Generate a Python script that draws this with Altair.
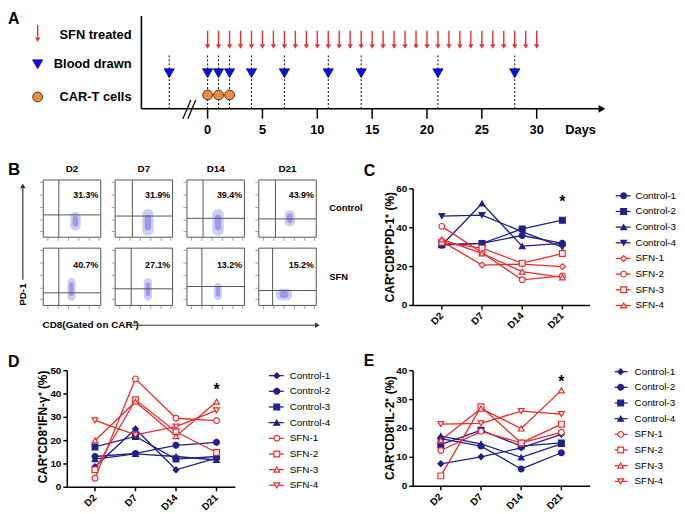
import altair as alt
import pandas as pd

FONT = "Liberation Sans"
NAVY = "#20208e"
RED = "#f02a2a"
GREY = "#555555"

# ---------------- Panel A data ----------------
sfn_days = list(range(0, 31))
blood_days = [-3.5, 0, 1, 2, 4, 7, 11, 14, 21, 28]
cart_days = [0, 1, 2]
day_ticks = [0, 5, 10, 15, 20, 25, 30]

# ---------------- Panel B data ----------------
flow_days = ["D2", "D7", "D14", "D21"]
flow_groups = ["Control", "SFN"]
flow_pct_control = [31.3, 31.9, 39.4, 43.9]
flow_pct_sfn = [40.7, 27.1, 13.2, 15.2]
gate_x_control = [0.27, 0.30, 0.28, 0.29]
gate_x_sfn = [0.27, 0.28, 0.26, 0.24]
gate_y_control = [0.39, 0.37, 0.33, 0.32]
gate_y_sfn = [0.22, 0.29, 0.33, 0.26]
cloud_x_control = [0.56, 0.57, 0.54, 0.54]
cloud_x_sfn = [0.49, 0.57, 0.54, 0.44]
cloud_y_control = [0.28, 0.26, 0.26, 0.33]
cloud_y_sfn = [0.28, 0.28, 0.24, 0.19]
cloud_w_control = [0.09, 0.10, 0.10, 0.09]
cloud_w_sfn = [0.07, 0.07, 0.07, 0.14]
cloud_h_control = [0.16, 0.23, 0.23, 0.14]
cloud_h_sfn = [0.20, 0.20, 0.15, 0.10]
flow_ticks_left = [0.1, 0.3, 0.52, 0.74, 0.96]
flow_ticks_bottom = [0.08, 0.26, 0.44, 0.62, 0.80, 0.97]

# ---------------- Panels C-E data ----------------
days = ["D2", "D7", "D14", "D21"]
series = ["Control-1", "Control-2", "Control-3", "Control-4",
          "SFN-1", "SFN-2", "SFN-3", "SFN-4"]

pd1_control1 = [31.0, 32.0, 36.0, 32.0]
pd1_control2 = [31.3, 31.9, 39.4, 43.9]
pd1_control3 = [31.0, 52.5, 30.5, 32.0]
pd1_control4 = [46.0, 46.5, 38.0, 30.0]
pd1_sfn1 = [33.0, 20.8, 21.3, 20.0]
pd1_sfn2 = [40.7, 27.1, 13.2, 15.2]
pd1_sfn3 = [32.5, 29.5, 21.8, 26.7]
pd1_sfn4 = [34.0, 26.8, 17.4, 14.5]

ifn_control1 = [8.8, 25.0, 7.5, 12.5]
ifn_control2 = [13.2, 14.5, 18.0, 19.3]
ifn_control3 = [17.3, 21.8, 12.1, 13.2]
ifn_control4 = [12.1, 14.3, 13.2, 11.7]
ifn_sfn1 = [3.9, 46.5, 29.6, 28.6]
ifn_sfn2 = [7.5, 37.5, 23.8, 14.9]
ifn_sfn3 = [20.1, 36.7, 21.9, 36.7]
ifn_sfn4 = [28.7, 22.5, 26.0, 33.0]

il2_control1 = [7.8, 10.2, 13.3, 18.0]
il2_control2 = [16.5, 13.9, 6.0, 11.6]
il2_control3 = [14.4, 19.4, 13.9, 15.0]
il2_control4 = [17.4, 14.7, 10.0, 14.7]
il2_sfn1 = [12.4, 19.0, 15.0, 18.7]
il2_sfn2 = [3.6, 27.5, 15.0, 21.5]
il2_sfn3 = [15.9, 26.9, 20.0, 33.2]
il2_sfn4 = [21.5, 21.8, 26.0, 25.0]

ONE = pd.DataFrame({"k": [0]})


def txt(s, x, y, size=11, bold=True, align="left", angle=0, baseline="middle", color="black"):
    return alt.Chart(ONE).mark_text(
        text=s, font=FONT, fontSize=size, fontWeight="bold" if bold else "normal",
        align=align, baseline=baseline, angle=angle, color=color
    ).encode(x=alt.value(x), y=alt.value(y))


def hrule(x0, x1, y, w=1.5, color="black"):
    return alt.Chart(ONE).mark_rule(color=color, strokeWidth=w).encode(
        x=alt.value(x0), x2=alt.value(x1), y=alt.value(y))


def vrule(x, y0, y1, w=1.5, color="black"):
    return alt.Chart(ONE).mark_rule(color=color, strokeWidth=w).encode(
        x=alt.value(x), y=alt.value(y0), y2=alt.value(y1))


def seg(x0, y0, x1, y1, w=1.3, color="black"):
    return alt.Chart(ONE).mark_rule(color=color, strokeWidth=w).encode(
        x=alt.value(x0), x2=alt.value(x1), y=alt.value(y0), y2=alt.value(y1))


def sym(shape, x, y, size, fill, stroke="black", sw=0.0):
    return alt.Chart(ONE).mark_point(
        shape=shape, filled=True, fill=fill, stroke=stroke, strokeWidth=sw,
        size=size, opacity=1
    ).encode(x=alt.value(x), y=alt.value(y))


children = []

# ======================= Panel A =======================
xA = alt.Scale(domain=[0, 30], range=[202, 535], nice=False, zero=False)


def XA():
    return alt.X("day:Q", scale=xA, axis=None)


sfn_df = pd.DataFrame({"day": sfn_days})
blood_df = pd.DataFrame({"day": blood_days})
cart_df = pd.DataFrame({"day": cart_days})
tick_df = pd.DataFrame({"day": day_ticks})

panelA = alt.layer(
    alt.Chart(sfn_df).mark_rule(color=RED, strokeWidth=1.4).encode(
        x=XA(), y=alt.value(20), y2=alt.value(34)),
    alt.Chart(sfn_df).mark_point(shape="triangle-down", filled=True, color=RED,
                                 size=28, opacity=1).encode(x=XA(), y=alt.value(36)),
    alt.Chart(blood_df).mark_rule(color="black", strokeWidth=1, strokeDash=[2, 2]).encode(
        x=XA(), y=alt.value(45), y2=alt.value(99)),
    alt.Chart(blood_df).mark_point(shape="triangle-down", filled=True, fill="#0a0aff",
                                   stroke="black", strokeWidth=0.6, size=110,
                                   opacity=1).encode(x=XA(), y=alt.value(63)),
    alt.Chart(cart_df).mark_point(shape="circle", filled=True, fill="#f08c3c",
                                  stroke="black", strokeWidth=0.7, size=100,
                                  opacity=1).encode(x=XA(), y=alt.value(85)),
    alt.Chart(tick_df).mark_rule(color="black", strokeWidth=1.5).encode(
        x=XA(), y=alt.value(99), y2=alt.value(109)),
    alt.Chart(tick_df).mark_text(font=FONT, fontSize=13, fontWeight="bold",
                                 baseline="middle").encode(
        x=XA(), y=alt.value(120), text="day:Q"),
)
children.append(panelA)

children += [
    vrule(135, 5, 99, 1.6),
    hrule(135, 598, 99, 1.6),
    sym("triangle-right", 601, 99, 60, "black"),
    seg(177, 109, 185, 90, 1.3),
    seg(182, 109, 190, 90, 1.3),
    txt("Days", 564, 120, 13),
    # legend
    vrule(30, 14, 27, 1.4, RED),
    sym("triangle-down", 30, 29, 28, RED, RED),
    sym("triangle-down", 30, 54, 110, "#0a0aff", "black", 0.6),
    sym("circle", 30, 87, 100, "#f08c3c", "black", 0.7),
    txt("SFN treated", 125, 24, 13, align="right"),
    txt("Blood drawn", 125, 54, 13, align="right"),
    txt("CAR-T cells", 125, 87, 13, align="right"),
    txt("A", 0, 0, 16, baseline="top"),
]

# ======================= Panel B =======================
BW, BH = 0.8, 0.84
LABEL_X = 0.74
LABEL_Y = [0.74, 0.70]
rows = []
tick_rows = []
for r, g in enumerate(flow_groups):
    ctl = (g == "Control")
    pct = flow_pct_control if ctl else flow_pct_sfn
    gxs = gate_x_control if ctl else gate_x_sfn
    gys = gate_y_control if ctl else gate_y_sfn
    cxs = cloud_x_control if ctl else cloud_x_sfn
    cys = cloud_y_control if ctl else cloud_y_sfn
    cws = cloud_w_control if ctl else cloud_w_sfn
    chs = cloud_h_control if ctl else cloud_h_sfn
    for c, d in enumerate(flow_days):
        rows.append(dict(
            group=g, day=d, pct=f"{pct[c]}%",
            bx0=c, bx1=c + BW, by0=r, by1=r + BH,
            hx=c + BW / 2,
            gx=c + BW * gxs[c], gy=r + BH * (1 - gys[c]),
            lx=c + BW * LABEL_X, ly=r + BH * (1 - LABEL_Y[r]),
            cx0=c + BW * (cxs[c] - cws[c]), cx1=c + BW * (cxs[c] + cws[c]),
            cy0=r + BH * (1 - (cys[c] + chs[c])), cy1=r + BH * (1 - (cys[c] - chs[c])),
            ix0=c + BW * (cxs[c] - 0.55 * cws[c]), ix1=c + BW * (cxs[c] + 0.55 * cws[c]),
            iy0=r + BH * (1 - (cys[c] + 0.6 * chs[c])), iy1=r + BH * (1 - (cys[c] - 0.6 * chs[c])),
        ))
        for f in flow_ticks_left:
            tick_rows.append(dict(kind="L", x=c, y=r + BH * (1 - f)))
        for f in flow_ticks_bottom:
            tick_rows.append(dict(kind="B", x=c + BW * f, y=r + BH))
flow_df = pd.DataFrame(rows)
head_df = flow_df[flow_df.group == "Control"]
ftick_df = pd.DataFrame(tick_rows)

xB = alt.Scale(domain=[0, 4], range=[35.7, 326.5], nice=False, zero=False)
yB = alt.Scale(domain=[0, 2], range=[171, 309], nice=False, zero=False)


def XB(f):
    return alt.X(f"{f}:Q", scale=xB, axis=None)


def YB(f):
    return alt.Y(f"{f}:Q", scale=yB, axis=None)


base = alt.Chart(flow_df)
panelB = alt.layer(
    base.mark_rect(fill="white", stroke=GREY, strokeWidth=1).encode(
        x=XB("bx0"), x2="bx1:Q", y=YB("by0"), y2="by1:Q"),
    base.mark_rect(fill="#b8b8f2", opacity=0.7, cornerRadius=5).encode(
        x=XB("cx0"), x2="cx1:Q", y=YB("cy0"), y2="cy1:Q"),
    base.mark_rect(fill="#6a6ad8", opacity=0.5, cornerRadius=3).encode(
        x=XB("ix0"), x2="ix1:Q", y=YB("iy0"), y2="iy1:Q"),
    base.mark_rule(color=GREY, strokeWidth=1).encode(
        x=XB("gx"), y=YB("by0"), y2="by1:Q"),
    base.mark_rule(color=GREY, strokeWidth=1).encode(
        y=YB("gy"), x=XB("bx0"), x2="bx1:Q"),
    alt.Chart(ftick_df).transform_filter("datum.kind == 'L'").mark_tick(
        orient="horizontal", color="#777777", thickness=1, size=3, xOffset=-2).encode(
        x=XB("x"), y=YB("y")),
    alt.Chart(ftick_df).transform_filter("datum.kind == 'B'").mark_tick(
        orient="vertical", color="#777777", thickness=1, size=3, yOffset=2).encode(
        x=XB("x"), y=YB("y")),
    base.mark_text(font=FONT, fontSize=9, fontWeight="bold").encode(
        x=XB("lx"), y=YB("ly"), text="pct:N"),
    alt.Chart(head_df).mark_text(font=FONT, fontSize=10, fontWeight="bold").encode(
        x=XB("hx"), y=alt.value(160), text="day:N"),
)
children.append(panelB)
children += [
    txt("Control", 325, 199, 9.5),
    txt("SFN", 325, 269, 9.5),
    vrule(15, 272, 179, 1.2, "#333333"),
    sym("triangle-up", 15, 177, 30, "#333333", "#333333"),
    txt("PD-1", 15, 287, 10, angle=270, align="center"),
    txt("CD8(Gated on CAR\u207a)", 35, 318, 10),
    hrule(125, 311, 318, 1.2, "#333333"),
    sym("triangle-right", 313, 318, 30, "#333333", "#333333"),
    txt("B", 0, 161, 17),
]


# ======================= Line panels =======================
def line_panel(vals, shapes, cat_rng, y_dom, y_rng, yticks, ax_x0, ax_x1,
               ytitle, title_x, title_y, star_v, leg_x, leg_y, letter, letter_xy):
    recs = []
    for s, v in zip(series, vals):
        for i, (d, val) in enumerate(zip(days, v)):
            recs.append(dict(series=s, day=d, idx=i, value=val))
    df = pd.DataFrame(recs)
    xs = alt.Scale(type="point", domain=days, range=cat_rng, padding=0)
    ys = alt.Scale(domain=y_dom, range=y_rng, nice=False, zero=False)
    col_scale = alt.Scale(domain=series, range=[NAVY] * 4 + [RED] * 4)
    fill_scale = alt.Scale(domain=series, range=[NAVY] * 4 + ["white"] * 4)
    shape_scale = alt.Scale(domain=series, range=shapes)
    bottom = y_rng[0]

    X = alt.X("day:N", scale=xs, axis=None)
    ax_df = pd.DataFrame({"lo": [y_dom[0]], "hi": [y_dom[1]]})
    yt_df = pd.DataFrame({"v": yticks})
    xt_df = pd.DataFrame({"day": days})
    star_df = pd.DataFrame({"day": ["D21"], "v": [star_v]})

    layer = alt.layer(
        alt.Chart(ax_df).mark_rule(color="black", strokeWidth=1.5).encode(
            x=alt.value(ax_x0), y=alt.Y("lo:Q", scale=ys, axis=None), y2="hi:Q"),
        alt.Chart(ax_df).mark_rule(color="black", strokeWidth=1.5).encode(
            y=alt.Y("lo:Q", scale=ys, axis=None), x=alt.value(ax_x0), x2=alt.value(ax_x1)),
        alt.Chart(yt_df).mark_rule(color="black", strokeWidth=1.5).encode(
            y=alt.Y("v:Q", scale=ys, axis=None), x=alt.value(ax_x0 - 4), x2=alt.value(ax_x0)),
        alt.Chart(yt_df).mark_text(font=FONT, fontSize=10, fontWeight="bold",
                                   align="right", baseline="middle").encode(
            y=alt.Y("v:Q", scale=ys, axis=None), x=alt.value(ax_x0 - 6), text="v:Q"),
        alt.Chart(xt_df).mark_rule(color="black", strokeWidth=1.5).encode(
            x=X, y=alt.value(bottom), y2=alt.value(bottom + 4)),
        alt.Chart(xt_df).mark_text(font=FONT, fontSize=10, fontWeight="bold",
                                   align="right", baseline="middle", angle=315).encode(
            x=X, y=alt.value(bottom + 9), text="day:N"),
        alt.Chart(df).mark_line(strokeWidth=1.3).encode(
            x=X, y=alt.Y("value:Q", scale=ys, axis=None),
            color=alt.Color("series:N", scale=col_scale, legend=None),
            detail="series:N", order="idx:Q"),
        alt.Chart(df).mark_point(filled=True, size=34, strokeWidth=1.2, opacity=1).encode(
            x=X, y=alt.Y("value:Q", scale=ys, axis=None),
            shape=alt.Shape("series:N", scale=shape_scale, legend=None),
            fill=alt.Fill("series:N", scale=fill_scale, legend=None),
            stroke=alt.Stroke("series:N", scale=col_scale, legend=None)),
        alt.Chart(star_df).mark_text(text="*", font=FONT, fontSize=16, fontWeight="bold",
                                     baseline="middle").encode(
            x=X, y=alt.Y("v:Q", scale=ys, axis=None)),
    )

    leg_df = pd.DataFrame({"series": series})
    ly = alt.Scale(type="point", domain=series, range=leg_y, padding=0)
    LY = alt.Y("series:N", scale=ly, axis=None)
    l0, l1, lm, lt = leg_x
    legend = alt.layer(
        alt.Chart(leg_df).mark_rule(strokeWidth=1.3).encode(
            x=alt.value(l0), x2=alt.value(l1), y=LY,
            color=alt.Color("series:N", scale=col_scale, legend=None)),
        alt.Chart(leg_df).mark_point(filled=True, size=34, strokeWidth=1.2, opacity=1).encode(
            x=alt.value(lm), y=LY,
            shape=alt.Shape("series:N", scale=shape_scale, legend=None),
            fill=alt.Fill("series:N", scale=fill_scale, legend=None),
            stroke=alt.Stroke("series:N", scale=col_scale, legend=None)),
        alt.Chart(leg_df).mark_text(font=FONT, fontSize=10, align="left",
                                    baseline="middle").encode(
            x=alt.value(lt), y=LY, text="series:N"),
    )
    extras = [
        txt(ytitle, title_x, title_y, 12, angle=270, align="center"),
        txt(letter, letter_xy[0], letter_xy[1], 16),
    ]
    return [layer, legend] + extras


shapes_C = ["circle", "square", "triangle-up", "triangle-down",
            "diamond", "circle", "square", "triangle-up"]
shapes_DE = ["diamond", "circle", "square", "triangle-up",
             "circle", "square", "triangle-up", "triangle-down"]

children += line_panel(
    [pd1_control1, pd1_control2, pd1_control3, pd1_control4,
     pd1_sfn1, pd1_sfn2, pd1_sfn3, pd1_sfn4],
    shapes_C, [439, 561], [0, 60], [298, 180], [0, 20, 40, 60], 410, 589,
    "CAR\u207aCD8\u207aPD-1\u207a (%)", 387, 239, 53.4,
    (615, 630, 623, 635), [187, 298], "C", (360, 162))

children += line_panel(
    [ifn_control1, ifn_control2, ifn_control3, ifn_control4,
     ifn_sfn1, ifn_sfn2, ifn_sfn3, ifn_sfn4],
    shapes_DE, [88, 211], [0, 50], [482, 364], [0, 10, 20, 30, 40, 50], 60, 230,
    "CAR\u207aCD8\u207aIFN-\u03b3\u207a (%)", 35, 421, 41.5,
    (264, 279, 272, 285), [369, 480], "D", (0, 355))

children += line_panel(
    [il2_control1, il2_control2, il2_control3, il2_control4,
     il2_sfn1, il2_sfn2, il2_sfn3, il2_sfn4],
    shapes_DE, [438, 560], [0, 40], [481, 364], [0, 10, 20, 30, 40], 410, 589,
    "CAR\u207aCD8\u207aIL-2\u207a (%)", 387, 422, 36.2,
    (614, 627, 620, 634), [365, 476], "E", (360, 354))

chart = alt.layer(*children).resolve_scale(
    x="independent", y="independent", color="independent",
    fill="independent", stroke="independent", shape="independent"
).properties(
    width=677, height=506, autosize=alt.AutoSizeParams(type="none"), padding=0
).configure_view(strokeWidth=0)

chart.save("out.html", embed_options={"renderer": "svg", "actions": False})
